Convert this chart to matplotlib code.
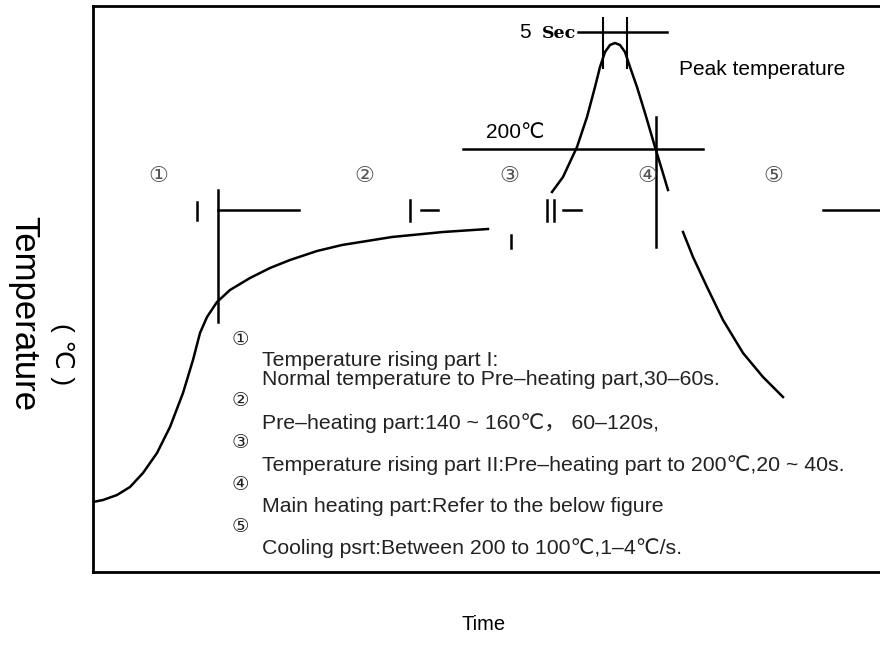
import matplotlib
matplotlib.use("Agg")
import matplotlib.pyplot as plt

# everything below is in picture pixels (x right, y down)
rise_x = [93, 103, 117, 130, 143, 157, 170, 183, 193, 200, 207, 217, 230, 250, 270, 290, 317, 342, 392, 443, 488]
rise_y = [502, 500, 495, 487, 473, 453, 427, 393, 360, 333, 317, 302, 290, 278, 268, 260, 251, 245, 237, 232, 229]

peak_x = [552, 563, 577, 587, 595, 600, 605, 610, 615, 620, 625, 630, 637, 645, 655, 662, 668]
peak_y = [192, 177, 147, 117, 87, 67, 52, 45, 43, 45, 52, 67, 87, 113, 147, 170, 190]

cool_x = [683, 693, 707, 723, 743, 763, 783]
cool_y = [232, 257, 287, 320, 353, 377, 397]

circled = ["①", "②", "③", "④", "⑤"]
circled_x = [158, 364, 509, 647, 773]

note_nums = ["①", "②", "③", "④", "⑤"]
note_num_y = [340, 401, 443, 484, 527]
note_lines = [
    "Temperature rising part I:",
    "Normal temperature to Pre\u2013heating part,30\u201360s.",
    "Pre\u2013heating part:140 ~ 160\u2103\uff0c 60\u2013120s,",
    "Temperature rising part II:Pre\u2013heating part to 200\u2103,20 ~ 40s.",
    "Main heating part:Refer to the below figure",
    "Cooling psrt:Between 200 to 100\u2103,1\u20134\u2103/s.",
]
note_line_y = [361, 380, 423, 465, 507, 548]

fam = ["Liberation Sans", "DejaVu Sans", "Noto Sans CJK SC"]
ink = "#222222"

fig = plt.figure(figsize=(8.8, 6.66), dpi=100)
ax = fig.add_axes([93 / 880, (666 - 572) / 666, (895 - 93) / 880, (572 - 6) / 666])
ax.set_xlim(93, 895)
ax.set_ylim(572, 6)
ax.set_xticks([])
ax.set_yticks([])
for s in ["left", "top", "bottom"]:
    ax.spines[s].set_linewidth(2)
ax.spines["right"].set_visible(False)

lw = 1.8
ax.plot(rise_x, rise_y, color="black", lw=lw, solid_joinstyle="round")
ax.plot(peak_x, peak_y, color="black", lw=lw, solid_joinstyle="round")
ax.plot(cool_x, cool_y, color="black", lw=lw, solid_joinstyle="round")

# guide lines
ax.plot([218, 218], [190, 322], color="black", lw=lw)
ax.plot([218, 299], [210, 210], color="black", lw=lw)
ax.plot([197, 197], [202, 220], color="black", lw=lw)
ax.plot([410, 410], [200, 221], color="black", lw=lw)
ax.plot([421, 438], [210, 210], color="black", lw=lw)
ax.plot([547, 547], [200, 221], color="black", lw=lw)
ax.plot([554, 554], [200, 221], color="black", lw=lw)
ax.plot([563, 581], [210, 210], color="black", lw=lw)
ax.plot([511, 511], [235, 248], color="black", lw=lw)
ax.plot([656, 656], [117, 247], color="black", lw=lw)
ax.plot([823, 895], [210, 210], color="black", lw=lw)
ax.plot([463, 703], [149, 149], color="black", lw=lw)
ax.plot([578, 667], [32, 32], color="black", lw=lw)
ax.plot([603, 603], [18, 68], color="black", lw=1.5)
ax.plot([627, 627], [18, 68], color="black", lw=1.5)

ax.text(576, 34, "Sec", ha="right", va="center", fontsize=12.5, family="DejaVu Serif", weight="bold")
ax.text(531, 33, "5", ha="right", va="center", fontsize=15, family=fam)
ax.text(515, 133, "200\u2103", ha="center", va="center", fontsize=15, family=fam)
ax.text(679, 70, "Peak temperature", ha="left", va="center", fontsize=15, family=fam)

for c, x in zip(circled, circled_x):
    ax.text(x, 176, c, ha="center", va="center", fontsize=16, family=["DejaVu Sans"], color="#555555")

for c, yn in zip(note_nums, note_num_y):
    ax.text(240, yn, c, ha="center", va="center", fontsize=14, family=["DejaVu Sans"], color=ink)
for t, yt in zip(note_lines, note_line_y):
    ax.text(262, yt, t, ha="left", va="center", fontsize=15.3, family=fam, color=ink)

ax.text(484, 625, "Time", ha="center", va="center", fontsize=14.5, family=fam)
ax.text(24, 314, "Temperature", ha="center", va="center", rotation=270, fontsize=25, family=fam)
ax.text(62, 354, "( \u2103 )", ha="center", va="center", rotation=270, fontsize=19, family=fam)

fig.savefig("out.png", dpi=100)
